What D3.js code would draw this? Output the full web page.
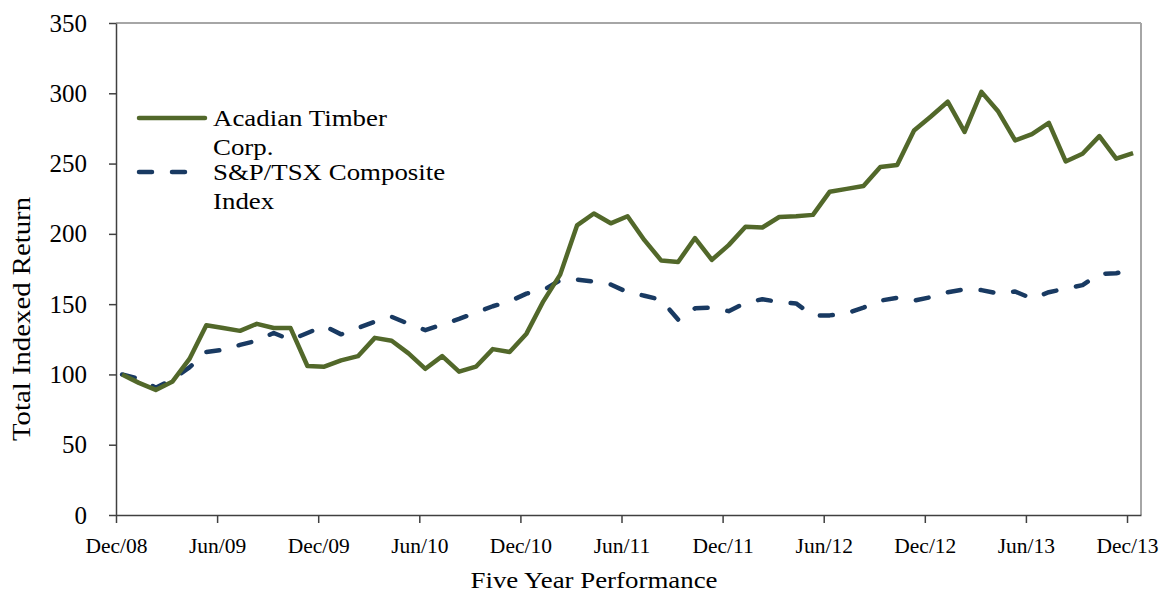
<!DOCTYPE html>
<html>
<head>
<meta charset="utf-8">
<script src="https://cdn.jsdelivr.net/npm/d3@7"></script>
<style>
  body { margin: 0; background: #fff; }
  svg text { font-family: "Liberation Serif", "Times New Roman", serif; fill: #000; }
  .axis path, .axis line { stroke: #404040; stroke-width: 1.5; }
  .axis-y text { font-size: 25px; }
  .axis-x text { font-size: 21.5px; }
</style>
</head>
<body>
<svg id="chart" width="1172" height="592"></svg>
<script>
// tick labels every six months
var tickLabels = ["Dec/08", "Jun/09", "Dec/09", "Jun/10", "Dec/10", "Jun/11",
                  "Dec/11", "Jun/12", "Dec/12", "Jun/13", "Dec/13"];

var yTicks = [0, 50, 100, 150, 200, 250, 300, 350];

// monthly index values, Dec/08 = 100
var acadian = [100, 94, 89, 95, 111, 135, 133, 131, 136, 133, 133, 106, 105.5, 110, 113,
               126, 124, 115, 104, 113, 102, 105.5, 118, 116, 129, 152, 171, 206, 214.5, 207.5,
               212.5, 195.5, 181, 180, 197, 181.5, 192, 205, 204.5, 212, 212.5, 213.5, 230, 232, 234,
               247.5, 249, 273.5, 283.5, 294, 272.5, 301, 287, 266.5, 271, 279, 251.5, 257, 269.5,
               253.5, 257.5];

var tsx = [100, 97, 90.5, 96.5, 105, 116, 117.5, 121, 124, 129.5, 124.5, 129.5, 134.5, 128.5, 133,
           137.5, 141, 136, 131.5, 135.5, 139.5, 144, 148.5, 152, 157.5, 160, 167, 167.5, 166, 164,
           158.5, 156, 153, 139, 147, 147.5, 145, 151, 153.5, 151.5, 150.5, 142, 142, 143.5, 147.5,
           152.5, 154.5, 152.5, 155, 158.5, 160.5, 160, 157.5, 159, 154, 158.5, 161, 163.5, 171.5,
           172, 175];

var seriesNames = [["Acadian Timber", "Corp."], ["S&P/TSX Composite", "Index"]];

var green = "#52682a", blue = "#193a62";

var plot = {left: 116, right: 1141, top: 23, bottom: 515};

var svg = d3.select("#chart");

var x = d3.scaleLinear().domain([-0.36, 60.47]).range([plot.left, plot.right]);
var y = d3.scaleLinear().domain([0, 350]).range([plot.bottom, plot.top]);

// frame (top and right in grey)
svg.append("line")
  .attr("x1", plot.left).attr("x2", plot.right).attr("y1", plot.top).attr("y2", plot.top)
  .attr("stroke", "#a6a6a6").attr("stroke-width", 2);
svg.append("line")
  .attr("x1", plot.right).attr("x2", plot.right).attr("y1", plot.top).attr("y2", plot.bottom)
  .attr("stroke", "#a6a6a6").attr("stroke-width", 2);

var yAxis = d3.axisLeft(y)
  .tickValues(yTicks)
  .tickSize(7)
  .tickSizeOuter(0)
  .tickPadding(22);

svg.append("g")
  .attr("class", "axis axis-y")
  .attr("transform", "translate(" + plot.left + ",0)")
  .call(yAxis);

var xAxis = d3.axisBottom(x)
  .tickValues(tickLabels.map(function(d, i) { return i * 6 - 0.36; }))
  .tickFormat(function(d, i) { return tickLabels[i]; })
  .tickSize(8)
  .tickSizeOuter(0)
  .tickPadding(15);

svg.append("g")
  .attr("class", "axis axis-x")
  .attr("transform", "translate(0," + plot.bottom + ")")
  .call(xAxis);

// axis titles
svg.append("text")
  .attr("transform", "translate(30,319) rotate(-90)")
  .attr("text-anchor", "middle")
  .attr("textLength", 244)
  .attr("lengthAdjust", "spacingAndGlyphs")
  .style("font-size", "25px")
  .text("Total Indexed Return");

svg.append("text")
  .attr("x", 594)
  .attr("y", 588)
  .attr("text-anchor", "middle")
  .attr("textLength", 247)
  .attr("lengthAdjust", "spacingAndGlyphs")
  .style("font-size", "24px")
  .text("Five Year Performance");

var line = d3.line()
  .x(function(d, i) { return x(i); })
  .y(function(d) { return y(d); });

svg.append("path")
  .datum(tsx)
  .attr("fill", "none")
  .attr("stroke", blue)
  .attr("stroke-width", 4.5)
  .attr("stroke-linecap", "round")
  .attr("stroke-linejoin", "round")
  .attr("stroke-dasharray", "13,20")
  .attr("d", line);

svg.append("path")
  .datum(acadian)
  .attr("fill", "none")
  .attr("stroke", green)
  .attr("stroke-width", 4.5)
  .attr("stroke-linejoin", "round")
  .attr("d", line);

// legend
var legend = svg.append("g").attr("class", "legend");
var legendRows = [{y: 118, color: green, dash: null},
                  {y: 172, color: blue, dash: "13,20"}];

legendRows.forEach(function(r, i) {
  legend.append("line")
    .attr("x1", 139).attr("x2", i === 0 ? 205 : 190)
    .attr("y1", r.y).attr("y2", r.y)
    .attr("stroke", r.color)
    .attr("stroke-width", 4.5)
    .attr("stroke-linecap", "round")
    .attr("stroke-dasharray", r.dash);
  var t = legend.append("text")
    .attr("transform", "translate(213," + (r.y + 8) + ") scale(1.12,1)")
    .style("font-size", "24px");
  t.append("tspan").attr("x", 0).text(seriesNames[i][0]);
  t.append("tspan").attr("x", 0).attr("dy", 29).text(seriesNames[i][1]);
});
</script>
</body>
</html>
